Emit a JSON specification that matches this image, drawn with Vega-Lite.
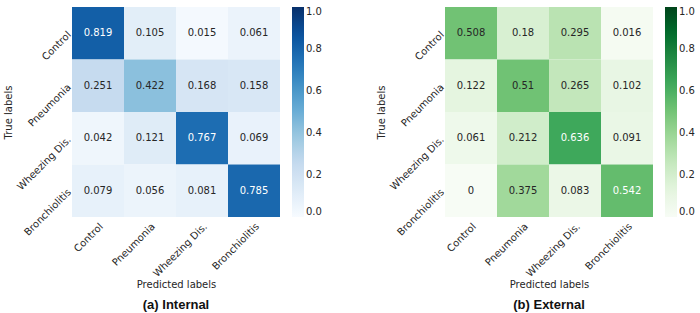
{
  "$schema": "https://vega.github.io/schema/vega-lite/v6.json",
  "background": "white",
  "padding": {"left": 3, "top": 7, "right": 2, "bottom": 0},
  "config": {
    "font": "DejaVu Sans",
    "view": {"stroke": null},
    "axis": {"labelFont": "DejaVu Sans", "labelFontSize": 10, "labelColor": "#262626", "titleFont": "DejaVu Sans", "titleFontSize": 10, "titleFontWeight": "normal", "titleColor": "#262626", "domain": false, "ticks": false},
    "legend": {"labelFont": "DejaVu Sans", "labelFontSize": 10, "labelColor": "#262626", "gradientLength": 210, "gradientThickness": 12, "gradientStrokeWidth": 0, "offset": 12, "labelOffset": 4},
    "concat": {"spacing": 54}
  },
  "datasets": {
    "internal": [
      {"true": "Control", "pred": "Control", "v": 0.819},
      {"true": "Control", "pred": "Pneumonia", "v": 0.105},
      {"true": "Control", "pred": "Wheezing Dis.", "v": 0.015},
      {"true": "Control", "pred": "Bronchiolitis", "v": 0.061},
      {"true": "Pneumonia", "pred": "Control", "v": 0.251},
      {"true": "Pneumonia", "pred": "Pneumonia", "v": 0.422},
      {"true": "Pneumonia", "pred": "Wheezing Dis.", "v": 0.168},
      {"true": "Pneumonia", "pred": "Bronchiolitis", "v": 0.158},
      {"true": "Wheezing Dis.", "pred": "Control", "v": 0.042},
      {"true": "Wheezing Dis.", "pred": "Pneumonia", "v": 0.121},
      {"true": "Wheezing Dis.", "pred": "Wheezing Dis.", "v": 0.767},
      {"true": "Wheezing Dis.", "pred": "Bronchiolitis", "v": 0.069},
      {"true": "Bronchiolitis", "pred": "Control", "v": 0.079},
      {"true": "Bronchiolitis", "pred": "Pneumonia", "v": 0.056},
      {"true": "Bronchiolitis", "pred": "Wheezing Dis.", "v": 0.081},
      {"true": "Bronchiolitis", "pred": "Bronchiolitis", "v": 0.785}
    ],
    "external": [
      {"true": "Control", "pred": "Control", "v": 0.508},
      {"true": "Control", "pred": "Pneumonia", "v": 0.18},
      {"true": "Control", "pred": "Wheezing Dis.", "v": 0.295},
      {"true": "Control", "pred": "Bronchiolitis", "v": 0.016},
      {"true": "Pneumonia", "pred": "Control", "v": 0.122},
      {"true": "Pneumonia", "pred": "Pneumonia", "v": 0.51},
      {"true": "Pneumonia", "pred": "Wheezing Dis.", "v": 0.265},
      {"true": "Pneumonia", "pred": "Bronchiolitis", "v": 0.102},
      {"true": "Wheezing Dis.", "pred": "Control", "v": 0.061},
      {"true": "Wheezing Dis.", "pred": "Pneumonia", "v": 0.212},
      {"true": "Wheezing Dis.", "pred": "Wheezing Dis.", "v": 0.636},
      {"true": "Wheezing Dis.", "pred": "Bronchiolitis", "v": 0.091},
      {"true": "Bronchiolitis", "pred": "Control", "v": 0},
      {"true": "Bronchiolitis", "pred": "Pneumonia", "v": 0.375},
      {"true": "Bronchiolitis", "pred": "Wheezing Dis.", "v": 0.083},
      {"true": "Bronchiolitis", "pred": "Bronchiolitis", "v": 0.542}
    ]
  },
  "resolve": {"scale": {"color": "independent"}, "legend": {"color": "independent"}},
  "hconcat": [
    {
      "data": {"name": "internal"},
      "width": 208,
      "height": 210,
      "title": {"text": "(a) Internal", "orient": "bottom", "font": "Liberation Sans", "fontSize": 13, "fontWeight": "bold", "color": "#111", "offset": 10, "anchor": "middle"},
      "encoding": {
        "x": {"field": "pred", "type": "nominal", "sort": ["Control", "Pneumonia", "Wheezing Dis.", "Bronchiolitis"], "scale": {"paddingInner": 0, "paddingOuter": 0}, "axis": {"title": "Predicted labels", "labelAngle": -45, "labelAlign": "right", "labelBaseline": "top", "labelPadding": 4, "titlePadding": 1}},
        "y": {"field": "true", "type": "nominal", "sort": ["Control", "Pneumonia", "Wheezing Dis.", "Bronchiolitis"], "scale": {"paddingInner": 0, "paddingOuter": 0}, "axis": {"title": "True labels", "labelAngle": -45, "labelAlign": "right", "labelBaseline": "middle", "labelPadding": 3, "titlePadding": 2}}
      },
      "layer": [
        {"mark": {"type": "rect"}, "encoding": {"color": {"field": "v", "type": "quantitative", "scale": {"domain": [0, 0.125, 0.25, 0.375, 0.5, 0.625, 0.75, 0.875, 1], "range": ["#f7fbff", "#deebf7", "#c6dbef", "#9ecae1", "#6baed6", "#4292c6", "#2171b5", "#08519c", "#08306b"]}, "legend": {"title": null, "values": [0, 0.2, 0.4, 0.6, 0.8, 1], "format": ".1f"}}}},
        {"mark": {"type": "text", "fontSize": 10}, "encoding": {"text": {"field": "v", "type": "quantitative", "format": ".3~g"}, "color": {"condition": {"test": "datum.v > 0.52", "value": "#ffffff"}, "value": "#262626"}}}
      ]
    },
    {
      "data": {"name": "external"},
      "width": 208,
      "height": 210,
      "title": {"text": "(b) External", "orient": "bottom", "font": "Liberation Sans", "fontSize": 13, "fontWeight": "bold", "color": "#111", "offset": 10, "anchor": "middle"},
      "encoding": {
        "x": {"field": "pred", "type": "nominal", "sort": ["Control", "Pneumonia", "Wheezing Dis.", "Bronchiolitis"], "scale": {"paddingInner": 0, "paddingOuter": 0}, "axis": {"title": "Predicted labels", "labelAngle": -45, "labelAlign": "right", "labelBaseline": "top", "labelPadding": 4, "titlePadding": 1}},
        "y": {"field": "true", "type": "nominal", "sort": ["Control", "Pneumonia", "Wheezing Dis.", "Bronchiolitis"], "scale": {"paddingInner": 0, "paddingOuter": 0}, "axis": {"title": "True labels", "labelAngle": -45, "labelAlign": "right", "labelBaseline": "middle", "labelPadding": 3, "titlePadding": 2}}
      },
      "layer": [
        {"mark": {"type": "rect"}, "encoding": {"color": {"field": "v", "type": "quantitative", "scale": {"domain": [0, 0.125, 0.25, 0.375, 0.5, 0.625, 0.75, 0.875, 1], "range": ["#f7fcf5", "#e5f5e0", "#c7e9c0", "#a1d99b", "#74c476", "#41ab5d", "#238b45", "#006d2c", "#00441b"]}, "legend": {"title": null, "values": [0, 0.2, 0.4, 0.6, 0.8, 1], "format": ".1f"}}}},
        {"mark": {"type": "text", "fontSize": 10}, "encoding": {"text": {"field": "v", "type": "quantitative", "format": ".3~g"}, "color": {"condition": {"test": "datum.v > 0.52", "value": "#ffffff"}, "value": "#262626"}}}
      ]
    }
  ]
}
